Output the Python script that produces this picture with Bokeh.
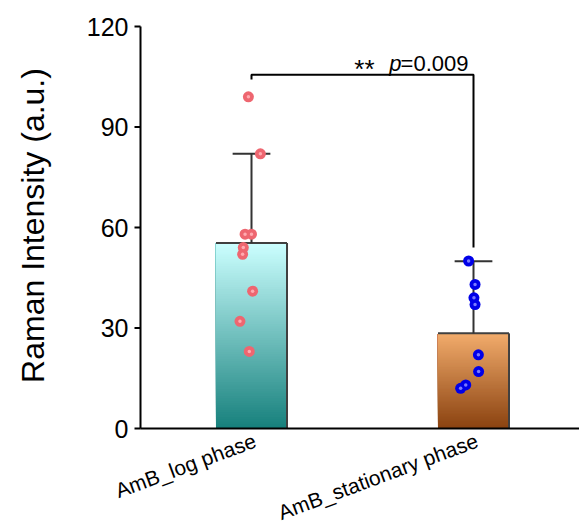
import numpy as np
from bokeh.plotting import figure
from bokeh.models import Label
from bokeh.core.properties import value
from bokeh.embed import file_html
from bokeh.resources import INLINE

# ---------------- data ----------------
categories = ["AmB_log phase", "AmB_stationary phase"]
means = [55.4, 28.4]
errors = [26.6, 21.5]
log_values = [99, 82, 58, 58, 54, 52, 41, 32, 23]
log_jitter = [-0.014, 0.04, -0.029, 0.0, -0.037, -0.04, 0.005, -0.052, -0.01]
stat_values = [50, 43, 39, 37, 22, 17, 13, 12]
stat_jitter = [-0.022, 0.007, 0.002, 0.007, 0.022, 0.023, -0.035, -0.058]
y_ticks = [0, 30, 60, 90, 120]
y_label = "Raman Intensity (a.u.)"
stars = "**"
p_letter = "p"
p_value_text = "=0.009"
bracket_y = 105.6
bracket_left_end = 104.2
bracket_right_end = 54.0

# ---------------- layout / style ----------------
FONT = "Liberation Sans"
W, H = 579, 525
top_px, zero_px = 26, 428          # pixel rows of y=120 and y=0
axis_px = 140                       # pixel column of the y axis
px_per_y = (zero_px - top_px) / 120.0
px_per_x = 222.0
y_min = -(H - zero_px) / px_per_y
y_max = 120 + top_px / px_per_y
x_axis0 = 0.5
x_start = x_axis0 - axis_px / px_per_x
x_end = x_start + W / px_per_x
tick_len = 6 / px_per_x

centers = np.array([1.0, 2.0])
bar_w = 0.32
cap_w = 0.17
top_colors = [(204, 255, 255), (242, 172, 108)]
bottom_colors = [(22, 128, 124), (138, 66, 16)]

p = figure(width=W, height=H, x_range=(x_start, x_end), y_range=(y_min, y_max),
           output_backend="svg", toolbar_location=None,
           x_axis_location=None, y_axis_location=None,
           min_border_left=0, min_border_right=0, min_border_top=0, min_border_bottom=0)
p.outline_line_color = None
p.grid.visible = False
p.background_fill_color = "white"
p.border_fill_color = "white"

# gradient bars made of overlapping strips (each reaches the bar top)
N = 80
for i in range(2):
    edges = np.linspace(0, means[i], N + 1)[:-1]
    t = (edges + means[i] / N / 2) / means[i]
    tc = np.array(top_colors[i]); bc = np.array(bottom_colors[i])
    cols = ["#%02x%02x%02x" % tuple(int(round(v)) for v in (bc + (tc - bc) * tt)) for tt in t]
    p.quad(left=[centers[i] - bar_w / 2] * N, right=[centers[i] + bar_w / 2] * N,
           bottom=edges, top=[means[i]] * N, fill_color=cols, line_color=None)

m = np.array(means); e = np.array(errors)
# bar border (top + right)
p.segment(x0=centers - bar_w / 2, y0=m, x1=centers + bar_w / 2, y1=m,
          line_color="#404040", line_width=2)
p.segment(x0=centers + bar_w / 2, y0=np.zeros(2), x1=centers + bar_w / 2, y1=m,
          line_color="#404040", line_width=2)
# error bars
p.segment(x0=centers, y0=m, x1=centers, y1=m + e, line_color="#333333", line_width=2)
p.segment(x0=centers - cap_w / 2, y0=m + e, x1=centers + cap_w / 2, y1=m + e,
          line_color="#333333", line_width=2)

# axes: lines, ticks, tick labels, axis title
p.segment(x0=[x_axis0], y0=[0], x1=[x_end], y1=[0], line_color="black", line_width=2)
p.segment(x0=[x_axis0], y0=[0], x1=[x_axis0], y1=[max(y_ticks)], line_color="black", line_width=2)
yt = np.array(y_ticks, dtype=float)
p.segment(x0=np.full(len(yt), x_axis0 - tick_len), y0=yt,
          x1=np.full(len(yt), x_axis0), y1=yt, line_color="black", line_width=2)
p.text(x=np.full(len(yt), x_axis0), y=yt, text=[str(v) for v in y_ticks],
       text_align="right", text_baseline="middle", x_offset=-12,
       text_font=value(FONT), text_font_size="25px", text_color="black")
p.text(x=[x_axis0], y=[np.mean([0, max(y_ticks)]) + 0.6], text=[y_label], angle=np.pi / 2,
       text_align="center", text_baseline="middle", x_offset=-(axis_px - 32),
       text_font=value(FONT), text_font_size="32px", text_color="black")

# points (sphere-like)
lx = centers[0] + np.array(log_jitter)
sx = centers[1] + np.array(stat_jitter)
p.scatter(lx, log_values, size=11, marker="circle", fill_color="#ee6670", line_color=None)
p.scatter(lx, log_values, size=3.5, marker="circle", fill_color="#ffaab0", line_color=None)
p.scatter(sx, stat_values, size=11, marker="circle", fill_color="#0000e8", line_color=None)
p.scatter(sx, stat_values, size=3.5, marker="circle", fill_color="#7a7aff", line_color=None)

# significance bracket
p.line(x=[centers[0], centers[0], centers[1], centers[1]],
       y=[bracket_left_end, bracket_y, bracket_y, bracket_right_end],
       line_color="black", line_width=2)
anchor_x = [centers[1]]
ty = [bracket_y - 0.3]
p.text(x=anchor_x, y=ty, text=[p_value_text], text_align="right",
       text_baseline="bottom", text_font=value(FONT), text_font_size="22px",
       text_color="black", x_offset=-5)
p.text(x=anchor_x, y=ty, text=[p_letter], text_align="right",
       text_baseline="bottom", text_font=value(FONT), text_font_size="22px",
       text_font_style="italic", text_color="black", x_offset=-72)
p.text(x=anchor_x, y=ty, text=[stars], text_align="right",
       text_baseline="bottom", text_font=value(FONT), text_font_size="26px",
       text_color="black", x_offset=-99, y_offset=8)

# category labels (rotated), anchored at each bar's centre on the x axis
for c, lab in zip(centers, categories):
    p.add_layout(Label(x=c, y=0, x_units="data", y_units="data", text=lab,
                       angle=0.355, text_align="right", text_baseline="bottom",
                       x_offset=7.6, y_offset=-22, text_font=FONT,
                       text_font_size="21px", text_color="black"))

open("out.html", "w").write(file_html(p, INLINE))
